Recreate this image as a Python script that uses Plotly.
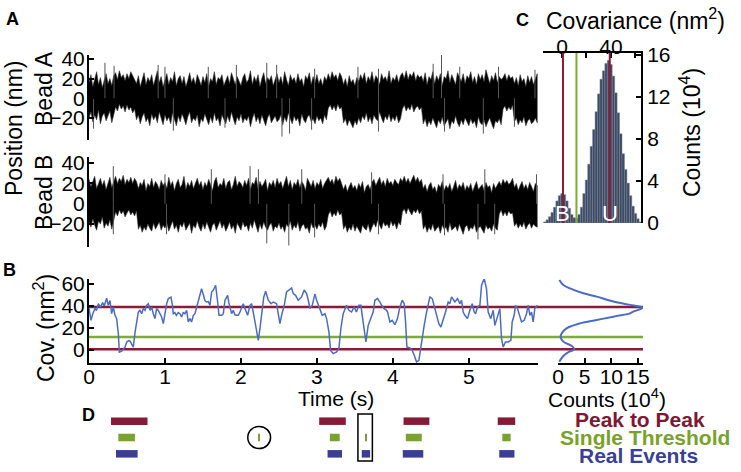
import numpy as np
import plotly.graph_objects as go

W, H = 741, 472
def px(x): return x / W
def py(y): return 1 - y / H

FONT = "Arial, Liberation Sans, sans-serif"
RED = "#8a1b36"
GREEN = "#7dab36"
BLUE_TR = "#4a6cc4"
D_RED = "#851b37"
D_GREEN = "#7aa22e"
D_BLUE = "#3a3e96"

# ---------------- Panel A: bead position noise envelopes (every 0.025 s) ----
t_grid = np.round(np.arange(0, 5.9001, 0.025), 3)
bead_a_hi = [16, 24, 12, 19, 27, 14, 21, 11, 18, 25, 15, 20, 13, 23, 26, 19, 28, 21, 24, 18,
             25, 20, 27, 22, 19, 15, 23, 12, 19, 26, 14, 21, 17, 24, 13, 20, 28, 16, 22, 12,
             19, 25, 14, 21, 17, 27, 13, 20, 23, 15, 22, 12, 18, 26, 16, 21, 14, 24, 19, 13,
             22, 16, 25, 12, 20, 17, 27, 14, 21, 19, 24, 13, 18, 23, 15, 26, 20, 14, 22, 17,
             13, 21, 25, 16, 19, 28, 14, 22, 17, 24, 12, 20, 26, 15, 21, 18, 23, 13, 19, 25,
             16, 22, 14, 27, 19, 13, 24, 18, 21, 15, 25, 17, 20, 12, 23, 19, 26, 14, 22, 16,
             24, 15, 20, 13, 22, 18, 25, 19, 27, 21, 24, 18, 26, 22, 14, 20, 12, 23, 16, 19,
             13, 21, 17, 24, 19, 26, 15, 22, 18, 27, 16, 23, 20, 14, 25, 19, 22, 17, 28, 15,
             21, 18, 24, 16, 23, 26, 20, 28, 19, 25, 22, 27, 18, 24, 21, 23, 17, 26, 14, 22,
             19, 27, 15, 23, 18, 25, 13, 22, 20, 28, 16, 24, 19, 14, 26, 21, 17, 25, 15, 23,
             20, 27, 16, 22, 14, 25, 19, 24, 17, 29, 21, 15, 23, 18, 26, 16, 22, 19, 21, 25,
             18, 24, 20, 22, 15, 21, 13, 24, 17, 20, 12, 23, 16, 22, 14, 19, 25]
bead_a_lo = [-20, -14, -24, -17, -22, -12, -26, -18, -15, -23, -19, -13, -25, -16, -9, -13, -6, -11, -8, -14,
             -7, -12, -9, -15, -11, -22, -17, -26, -19, -15, -24, -20, -28, -16, -22, -18, -25, -14, -21, -27,
             -17, -23, -19, -26, -15, -22, -28, -18, -24, -16, -21, -27, -19, -14, -25, -20, -23, -17, -29, -21,
             -24, -16, -22, -27, -19, -25, -15, -23, -20, -28, -17, -22, -26, -18, -24, -14, -21, -27, -19, -23,
             -16, -25, -20, -23, -18, -29, -21, -15, -24, -19, -26, -17, -22, -28, -20, -16, -25, -21, -18, -24,
             -22, -17, -27, -19, -24, -15, -21, -26, -18, -23, -20, -28, -16, -22, -25, -19, -17, -24, -21, -26,
             -18, -23, -20, -26, -17, -22, -10, -7, -12, -8, -13, -6, -11, -9, -25, -21, -28, -22, -26, -30,
             -23, -27, -20, -25, -18, -22, -15, -24, -19, -26, -17, -21, -23, -14, -20, -25, -18, -22, -16, -24,
             -19, -23, -17, -25, -21, -11, -7, -13, -9, -12, -6, -14, -10, -8, -12, -9, -26, -21, -29, -23,
             -27, -20, -25, -30, -22, -26, -19, -28, -24, -21, -31, -23, -26, -18, -25, -29, -22, -27, -20, -24,
             -28, -21, -26, -23, -30, -19, -25, -27, -22, -29, -24, -20, -26, -31, -23, -25, -21, -27, -11, -8,
             -13, -9, -12, -7, -24, -20, -27, -22, -25, -19, -28, -23, -21, -26, -24, -20, -25]
bead_b_hi = [24, 17, 22, 27, 15, 20, 25, 18, 23, 14, 21, 26, 16, 22, 27, 20, 25, 22, 28, 19,
             24, 21, 26, 20, 25, 22, 15, 21, 18, 24, 13, 20, 17, 25, 16, 22, 19, 14, 23, 18,
             21, 15, 26, 18, 22, 13, 20, 24, 16, 19, 27, 14, 21, 17, 23, 15, 20, 25, 18, 22,
             14, 21, 17, 24, 19, 13, 22, 26, 16, 20, 18, 25, 15, 21, 23, 14, 19, 27, 17, 22,
             20, 16, 23, 18, 25, 14, 21, 19, 26, 15, 22, 17, 20, 24, 13, 21, 18, 23, 16, 25,
             19, 22, 15, 20, 27, 17, 23, 14, 21, 18, 24, 16, 22, 19, 13, 25, 20, 17, 23, 15,
             21, 18, 24, 15, 20, 23, 26, 21, 24, 19, 27, 22, 25, 20, 14, 19, 12, 17, 21, 15,
             18, 13, 20, 16, 22, 11, 17, 19, 14, 21, 24, 18, 22, 26, 19, 23, 17, 25, 20, 22,
             18, 24, 21, 19, 25, 22, 27, 21, 25, 20, 24, 28, 22, 26, 21, 24, 15, 19, 12, 18,
             21, 14, 17, 11, 19, 16, 22, 13, 18, 15, 20, 12, 17, 23, 14, 19, 16, 21, 13, 18,
             15, 20, 12, 18, 22, 14, 17, 19, 13, 21, 16, 18, 11, 20, 15, 19, 22, 18, 24, 20,
             23, 19, 21, 25, 16, 20, 13, 18, 22, 15, 19, 14, 21, 17, 12, 20, 18]
bead_b_lo = [-18, -23, -15, -21, -26, -17, -20, -13, -24, -19, -22, -16, -25, -18, -8, -12, -6, -10, -7, -13,
             -9, -6, -11, -8, -12, -7, -25, -21, -28, -23, -26, -20, -24, -27, -19, -25, -22, -18, -26, -21,
             -24, -19, -27, -22, -17, -25, -21, -28, -20, -23, -18, -26, -22, -19, -29, -21, -24, -17, -23, -27,
             -20, -25, -18, -23, -28, -21, -19, -26, -22, -17, -24, -20, -27, -23, -18, -25, -21, -29, -19, -22,
             -26, -18, -23, -21, -27, -19, -24, -16, -22, -28, -20, -25, -18, -23, -26, -21, -19, -27, -22, -24,
             -19, -25, -22, -28, -20, -23, -17, -26, -21, -24, -18, -27, -22, -20, -25, -23, -29, -19, -24, -21,
             -25, -20, -23, -18, -26, -22, -11, -7, -13, -9, -12, -6, -11, -9, -25, -21, -28, -23, -26, -20,
             -27, -22, -25, -29, -21, -24, -26, -20, -28, -23, -19, -23, -16, -21, -25, -18, -22, -20, -24, -17,
             -22, -19, -25, -18, -21, -8, -5, -10, -4, -8, -11, -6, -9, -5, -10, -7, -25, -21, -28, -23,
             -26, -20, -27, -24, -22, -29, -21, -25, -23, -28, -19, -26, -24, -22, -27, -20, -25, -30, -23, -21,
             -27, -23, -25, -20, -28, -24, -22, -26, -29, -21, -25, -23, -27, -20, -24, -26, -10, -6, -12, -8,
             -12, -7, -10, -9, -22, -19, -24, -20, -23, -18, -25, -21, -19, -24, -20, -22, -23]
bead_a_spike_t = [0.21, 0.33, 0.91, 1.0, 1.57, 1.94, 2.34, 2.47, 2.97, 3.54, 3.81,
                  4.53, 4.64, 4.88, 5.39, 5.87,
                  0.06, 1.11, 1.79, 2.54, 2.64, 2.93, 3.81, 4.68, 5.19, 5.6]
bead_a_spike_v = [36, 33, 34, 32, 32, 34, 36, 34, 30, 32, 30,
                  35, 45, 32, 32, 29,
                  -31, -33, -30, -39, -36, -32, -34, -34, -36, -29]
bead_b_spike_t = [0.32, 1.0, 1.61, 2.12, 2.23, 2.80, 3.72, 4.66, 5.21, 5.89,
                  0.32, 1.02, 2.34, 2.63, 2.97, 3.81, 4.68, 5.12, 5.34]
bead_b_spike_v = [37, 29, 34, 37, 34, 34, 31, 29, 34, 29,
                  -30, -30, -39, -41, -33, -30, -31, -35, -30]

# ---------------- Panel B: covariance trace ----------------
cov_t = [0.000, 0.026, 0.05, 0.079, 0.10, 0.123, 0.15, 0.18, 0.20, 0.232, 0.254, 0.276,
         0.298, 0.32, 0.342, 0.364, 0.386, 0.399, 0.43, 0.474, 0.496, 0.52, 0.54, 0.561,
         0.583, 0.605, 0.627, 0.649, 0.67, 0.693, 0.715, 0.737, 0.759, 0.781, 0.803, 0.825,
         0.846, 0.868, 0.89, 0.912, 0.934, 0.956, 0.978, 1.0, 1.022, 1.044, 1.079, 1.095,
         1.11, 1.13, 1.15, 1.175, 1.197, 1.219, 1.24, 1.263, 1.285, 1.307, 1.329, 1.35,
         1.373, 1.395, 1.417, 1.44, 1.46, 1.482, 1.504, 1.526, 1.548, 1.57, 1.592, 1.614,
         1.636, 1.667, 1.693, 1.711, 1.746, 1.768, 1.79, 1.825, 1.84, 1.855, 1.877, 1.899,
         1.92, 1.943, 1.965, 1.987, 2.03, 2.053, 2.088, 2.118, 2.14, 2.162, 2.193, 2.228,
         2.25, 2.281, 2.30, 2.325, 2.36, 2.395, 2.425, 2.469, 2.491, 2.513, 2.535, 2.57,
         2.6, 2.632, 2.667, 2.689, 2.719, 2.754, 2.798, 2.833, 2.864, 2.886, 2.908, 2.939,
         2.974, 2.996, 3.04, 3.07, 3.105, 3.127, 3.158, 3.18, 3.215, 3.259, 3.289, 3.316,
         3.346, 3.39, 3.421, 3.456, 3.49, 3.52, 3.553, 3.579, 3.596, 3.623, 3.645, 3.675,
         3.71, 3.74, 3.763, 3.798, 3.829, 3.851, 3.886, 3.917, 3.93, 3.961, 3.991, 4.026,
         4.061, 4.092, 4.123, 4.149, 4.167, 4.184, 4.224, 4.254, 4.281, 4.311, 4.342, 4.368,
         4.386, 4.412, 4.443, 4.465, 4.487, 4.518, 4.544, 4.575, 4.605, 4.632, 4.662, 4.693,
         4.728, 4.75, 4.772, 4.816, 4.851, 4.882, 4.904, 4.925, 4.947, 4.982, 5.013, 5.044,
         5.07, 5.088, 5.114, 5.145, 5.167, 5.202, 5.232, 5.254, 5.289, 5.32, 5.342, 5.377,
         5.408, 5.43, 5.452, 5.482, 5.518, 5.553, 5.57, 5.596, 5.614, 5.64, 5.671, 5.693,
         5.728, 5.759, 5.781, 5.803, 5.825, 5.846, 5.868, 5.904]
cov_v = [38, 27, 33, 37.6, 36, 42, 39, 43, 40, 47, 40.6, 45,
         33, 39, 31.5, 28.5, 15, -2, -1, 2.7, 7, 8.5, 8, 5.8,
         2.7, 15.5, 27, 34.5, 36, 33, 37.6, 36, 40.6, 42, 36, 39,
         33, 28.5, 37.6, 36, 33, 30, 24, 34.5, 42, 46.7, 48, 42,
         33, 34, 31.5, 34, 33, 30, 34, 33, 36, 25.5, 28.5, 25.5,
         31.5, 33, 38, 43.6, 50, 55.8, 49.7, 45, 43.6, 44, 40.6, 52.7,
         54.2, 58.8, 43.6, 31.5, 31.5, 33, 45.2, 49.7, 43, 37.6, 33, 36,
         32, 31.5, 31.5, 34.5, 42.1, 37.6, 31.5, 40.6, 42.1, 34.5, 22.4, 8.8,
         19.4, 40.6, 48, 53.3, 45.2, 42.1, 43.6, 42.1, 31.5, 24, 31.5, 40.6,
         52.7, 54.2, 56.4, 51.2, 49.7, 45.2, 48.2, 54.5, 51.2, 45.2, 37.6, 40.6,
         51, 45.2, 37.6, 31.5, 33, 28.5, 16.4, -0.3, -3.3, -1.8, 1.2, 20,
         33, 40.6, 36.1, 34.5, 39.1, 34.5, 40.6, 40.6, 31.5, 16.4, 7.3, 22.4,
         28.5, 34.5, 45.2, 46.7, 43.6, 40.6, 37.6, 36.1, 34.5, 25.5, 27, 23,
         28.5, 39.1, 45.2, 42.1, 25.5, 2.7, 1.8, -0.3, -4.8, -10.9, -9.4, 4.2,
         13.3, 22.4, 34.5, 40.6, 48.2, 46.7, 40.6, 31.5, 23.9, 20.9, 27, 34.5,
         43.6, 42.1, 48.2, 43.6, 46.7, 42.1, 45.2, 34.5, 31.5, 28.5, 36.1, 42.1,
         34.5, 33, 39.1, 40.6, 58.8, 64.8, 55.8, 34.5, 28.5, 36.1, 22.4, 31.5,
         37.6, 10.3, 2.7, 7.3, 7.3, 8.8, 25.5, 31.5, 40.6, 37.6, 31.5, 25.5,
         27, 33, 40.6, 31.5, 34.5, 25.5, 37.6, 40.6]

# thresholds (nm^2)
thr_upper = 39.0
thr_single = 11.8
thr_lower = 0.8

# side histogram of covariance (counts 1e4 vs cov)
side_counts = [0.25, 1.0, 2.25, 4.75, 7.25, 10.4, 13.5, 15.9, 14.1, 13.5, 10.4, 7.25,
               4.1, 1.6, 0.7, 0.5, 1.0, 2.6, 3.1, 2.1, 1.0, 0.25]
side_cov = [63.6, 59, 56, 51.5, 48.5, 44, 41, 38.5, 34.8, 33.3, 30.3, 27.3,
            24.2, 19.7, 15.2, 11.5, 7.6, 3.6, 0.6, -1.5, -5.5, -10.6]

# ---------------- Panel C: histogram ----------------
hist_cov = list(range(-14, 65, 2))
hist_counts = [0.1, 0.3, 0.6, 1.0, 1.5, 2.1, 2.6, 2.8, 2.7, 2.1,
               1.4, 0.8, 0.5, 0.45, 0.8, 1.5, 2.8, 4.1, 5.6, 7.3,
               8.9, 10.6, 12.3, 13.7, 14.5, 15.2, 15.5, 15.1, 14.0, 12.4,
               10.5, 8.5, 6.6, 5.1, 3.8, 2.6, 1.6, 0.9, 0.4, 0.1]

# ---------------- Panel D: detected events (s) ----------------
ptp_start = [0.29, 3.03, 4.14, 5.38]
ptp_end = [0.77, 3.38, 4.48, 5.61]
st_start = [0.386, 2.23, 3.17, 3.635, 4.17, 5.44]
st_end = [0.605, 2.25, 3.30, 3.655, 4.38, 5.55]
real_start = [0.355, 3.14, 3.59, 4.13, 5.40]
real_end = [0.64, 3.33, 3.70, 4.40, 5.60]
circled_st_index = 1
boxed_real_index = 2

T_MAX = 5.91

fig = go.Figure()

def band(xa, ya, hi, lo, spike_t, spike_v):
    xs = list(t_grid) + list(t_grid[::-1])
    ys = list(hi) + list(lo[::-1])
    fig.add_trace(go.Scatter(x=xs, y=ys, fill="toself", fillcolor="black",
                             line=dict(color="#333333", width=0.6), mode="lines",
                             xaxis=xa, yaxis=ya, hoverinfo="skip"))
    sx, sy = [], []
    for t, v in zip(spike_t, spike_v):
        sx += [t, t, None]
        sy += [0, v, None]
    fig.add_trace(go.Scatter(x=sx, y=sy, mode="lines", line=dict(color="#555555", width=1),
                             xaxis=xa, yaxis=ya, hoverinfo="skip"))

band("x", "y", bead_a_hi, bead_a_lo, bead_a_spike_t, bead_a_spike_v)
band("x2", "y2", bead_b_hi, bead_b_lo, bead_b_spike_t, bead_b_spike_v)

fig.add_trace(go.Scatter(x=cov_t, y=cov_v, mode="lines", line=dict(color=BLUE_TR, width=1.5),
                         xaxis="x3", yaxis="y3"))
fig.add_trace(go.Scatter(x=side_counts, y=side_cov, mode="lines", line=dict(color=BLUE_TR, width=2),
                         line_shape="spline", xaxis="x4", yaxis="y3"))

fig.add_trace(go.Bar(x=hist_cov, y=hist_counts, width=2, marker=dict(color="#3e4a62",
                     line=dict(color="#74809a", width=0.5)), xaxis="x5", yaxis="y5"))

def event_bars(starts, ends, row, color):
    fig.add_trace(go.Bar(y=[row] * len(starts), x=[e - s for s, e in zip(starts, ends)],
                         base=starts, orientation="h", width=0.46,
                         marker=dict(color=color, line=dict(width=0)),
                         xaxis="x6", yaxis="y6"))

event_bars(ptp_start, ptp_end, 2, D_RED)
event_bars(st_start, st_end, 1, D_GREEN)
event_bars(real_start, real_end, 0, D_BLUE)

shapes = []
for v, c in [(thr_upper, RED), (thr_single, GREEN), (thr_lower, RED)]:
    shapes.append(dict(type="line", xref="paper", yref="y3", x0=px(89), x1=px(643), y0=v, y1=v,
                       line=dict(color=c, width=2.5), layer="below"))
    shapes.append(dict(type="line", xref="x5", yref="y5", x0=v, x1=v, y0=0, y1=16.2,
                       line=dict(color=c, width=2), layer="above"))

cs, ce = st_start[circled_st_index], st_end[circled_st_index]
cm = (cs + ce) / 2
shapes.append(dict(type="circle", xref="x6", yref="y6", x0=cm - 0.15, x1=cm + 0.15,
                   y0=1 - 0.68, y1=1 + 0.68, line=dict(color="black", width=1.5)))
bs, be = real_start[boxed_real_index], real_end[boxed_real_index]
shapes.append(dict(type="rect", xref="x6", yref="y6", x0=bs - 0.05, x1=be + 0.03,
                   y0=-0.44, y1=2.44, line=dict(color="black", width=1.5)))

axis_common = dict(showline=True, linecolor="black", linewidth=2, ticks="inside", ticklen=5,
                   tickwidth=2, tickcolor="black", showgrid=False, zeroline=False,
                   tickfont=dict(family=FONT, size=21, color="black"), automargin=False)

xdom = [px(89), px(538)]
fig.update_layout(
    width=W, height=H, margin=dict(l=0, r=0, t=0, b=0),
    paper_bgcolor="white", plot_bgcolor="white", showlegend=False,
    barmode="overlay", font=dict(family=FONT, color="black"),
    xaxis=dict(domain=xdom, range=[0, T_MAX], visible=False, anchor="y"),
    yaxis=dict(domain=[py(140), py(55)], range=[-42.5, 44], tickvals=[-20, 0, 20, 40], anchor="x",
               ticklabelstandoff=-2, **axis_common),
    xaxis2=dict(domain=xdom, range=[0, T_MAX], visible=False, anchor="y2"),
    yaxis2=dict(domain=[py(247), py(157)], range=[-42.5, 46], tickvals=[-20, 0, 20, 40], anchor="x2",
                ticklabelstandoff=-2, **axis_common),
    xaxis3=dict(domain=xdom, range=[0, T_MAX], tickvals=[0, 1, 2, 3, 4, 5], anchor="y3",
                ticklabelstandoff=-6, **axis_common),
    yaxis3=dict(domain=[py(363), py(279)], range=[-11.8, 64.5], tickvals=[0, 20, 40, 60], anchor="x3",
                ticklabelstandoff=-2, **axis_common),
    xaxis4=dict(domain=[px(558), px(643)], range=[0, 15.94], tickvals=[0, 5, 10, 15], anchor="y3",
                ticklabelstandoff=-6, **axis_common),
    xaxis5=dict(domain=[px(543), px(641)], range=[-15.5, 64.5], tickvals=[0, 40],
                minor=dict(tickvals=[20, 60], ticks="inside", ticklen=5, tickwidth=2, tickcolor="black"),
                side="top", anchor="y5", ticklabelstandoff=-11, **axis_common),
    yaxis5=dict(domain=[py(223), py(53)], range=[0, 16.2], tickvals=[0, 4, 8, 12, 16], side="right",
                anchor="x5", **axis_common),
    xaxis6=dict(domain=xdom, range=[0, T_MAX], visible=False, anchor="y6"),
    yaxis6=dict(domain=[py(462), py(413)], range=[-0.5, 2.5], visible=False, anchor="x6"),
    shapes=shapes,
)

def ann(text, x, y, size=23, angle=0, bold=False, color="black"):
    fig.add_annotation(text=f"<b>{text}</b>" if bold else text, x=px(x), y=py(y),
                       xref="paper", yref="paper", xanchor="center", yanchor="middle",
                       showarrow=False, textangle=angle,
                       font=dict(family=FONT, size=size, color=color))

ann("A", 12, 19, 18, bold=True)
ann("B", 9, 270, 18, bold=True)
ann("C", 522, 20, 18, bold=True)
ann("D", 88, 415, 18, bold=True)
ann("Position (nm)", 14, 129, 23, angle=-90)
ann("Bead A", 44, 89, 23, angle=-90)
ann("Bead B", 44, 193, 23, angle=-90)
ann("Cov. (nm<sup>2</sup>)", 44, 328, 23, angle=-90)
ann("Time (s)", 336, 398, 21)
ann("Counts (10<sup>4</sup>)", 607, 398, 21)
ann("Covariance (nm<sup>2</sup>)", 635, 19, 23)
ann("Counts (10<sup>4</sup>)", 690, 133, 23, angle=-90)
ann("B", 562, 213, 22, color="white")
ann("U", 610, 213, 22, color="white")
ann("Peak to Peak", 640, 419, 21, bold=True, color="#7f1734")
ann("Single Threshold", 645, 437, 21, bold=True, color="#79a22c")
ann("Real Events", 638, 455, 21, bold=True, color="#3b3f98")

fig.write_html("out.html", config={"displayModeBar": False},
               post_script="document.body.style.margin='0px';")
